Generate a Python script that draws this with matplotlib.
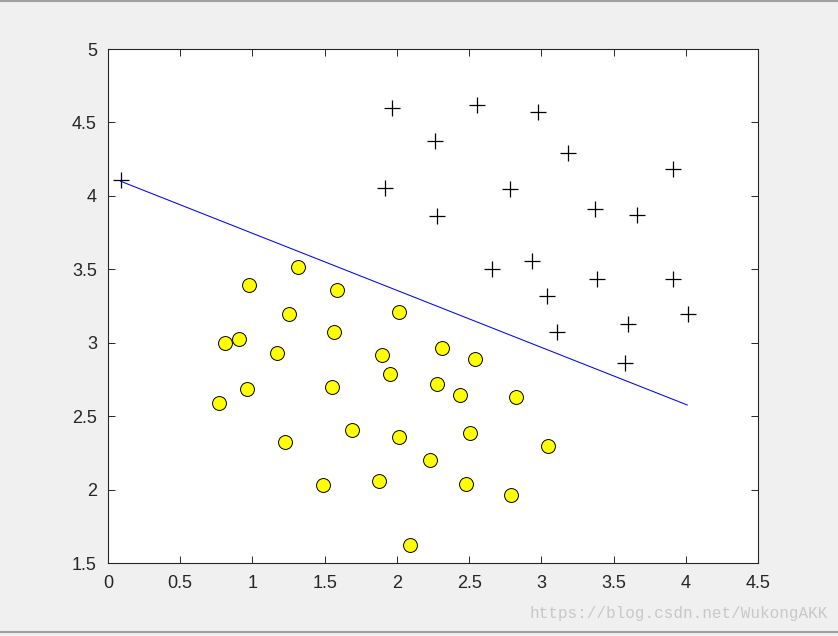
import matplotlib
matplotlib.use("Agg")
import matplotlib.pyplot as plt
from matplotlib.lines import Line2D

# Positive examples (y = 1), plotted as '+'
pos_x1 = [0.090, 1.968, 2.557, 2.979, 2.266, 3.187, 1.920, 2.785, 3.914, 2.280,
          3.374, 3.665, 2.661, 2.938, 3.386, 3.914, 3.041, 4.018, 3.602, 3.111, 3.581]
pos_x2 = [4.108, 4.596, 4.617, 4.569, 4.372, 4.290, 4.051, 4.045, 4.181, 3.861,
          3.908, 3.868, 3.500, 3.554, 3.432, 3.432, 3.316, 3.194, 3.125, 3.071, 2.860]

# Negative examples (y = 0), plotted as yellow circles
neg_x1 = [1.318, 0.974, 1.583, 1.251, 2.013, 1.562, 0.810, 0.905, 1.170, 1.897,
          2.312, 1.955, 0.962, 1.551, 0.766, 2.278, 2.437, 1.689, 1.228, 2.013,
          2.229, 1.491, 1.874, 2.093, 2.541, 2.825, 2.506, 3.046, 2.479, 2.790]
neg_x2 = [3.514, 3.391, 3.359, 3.196, 3.207, 3.073, 3.000, 3.023, 2.930, 2.918,
          2.962, 2.787, 2.685, 2.696, 2.592, 2.717, 2.644, 2.408, 2.326, 2.358,
          2.204, 2.029, 2.061, 1.621, 2.889, 2.630, 2.385, 2.297, 2.038, 1.963]

# Linear decision boundary endpoints
boundary_x = [0.086, 4.010]
boundary_y = [4.100, 2.576]

xticks = [0, 0.5, 1, 1.5, 2, 2.5, 3, 3.5, 4, 4.5]
xticklabels = ["0", "0.5", "1", "1.5", "2", "2.5", "3", "3.5", "4", "4.5"]
yticks = [1.5, 2, 2.5, 3, 3.5, 4, 4.5, 5]
yticklabels = ["1.5", "2", "2.5", "3", "3.5", "4", "4.5", "5"]

plt.rcParams['font.family'] = ['Liberation Sans', 'DejaVu Sans']

fig = plt.figure(figsize=(8.38, 6.36), dpi=100, facecolor='#f0f0f0')
ax = fig.add_axes([108/838, 73/636, 650/838, 514/636])
ax.set_facecolor('white')

ax.plot(pos_x1, pos_x2, linestyle='none', marker='+', color='black',
        markersize=12, markeredgewidth=0.9)
ax.plot(neg_x1, neg_x2, linestyle='none', marker='o', markerfacecolor='yellow',
        markeredgecolor='black', markersize=10, markeredgewidth=0.7)
ax.plot(boundary_x, boundary_y, color='blue', linewidth=0.75)

ax.set_xlim(0, 4.5)
ax.set_ylim(1.5, 5)
ax.set_xticks(xticks)
ax.set_xticklabels(xticklabels)
ax.set_yticks(yticks)
ax.set_yticklabels(yticklabels)
ax.tick_params(direction='in', length=5, width=0.7, colors='#262626',
               labelsize=13, top=True, right=True, labeltop=False, labelright=False,
               pad=8)
ax.tick_params(axis='x', pad=9)
for s in ax.spines.values():
    s.set_color('#262626')
    s.set_linewidth(0.8)

# window frame lines
fig.add_artist(Line2D([0, 1], [1 - 1/636, 1 - 1/636], color='#a0a0a0', linewidth=1.5,
                      transform=fig.transFigure))
fig.add_artist(Line2D([0, 1], [4/636, 4/636], color='#a0a0a0', linewidth=1.5,
                      transform=fig.transFigure))

fig.text(828/838, 1 - 618/636, "https://blog.csdn.net/WukongAKK", ha='right', va='baseline',
         fontsize=11.5, color='#c8c8c8', family=['Liberation Mono', 'DejaVu Sans Mono'])

fig.savefig('out.png', dpi=100, facecolor=fig.get_facecolor())
